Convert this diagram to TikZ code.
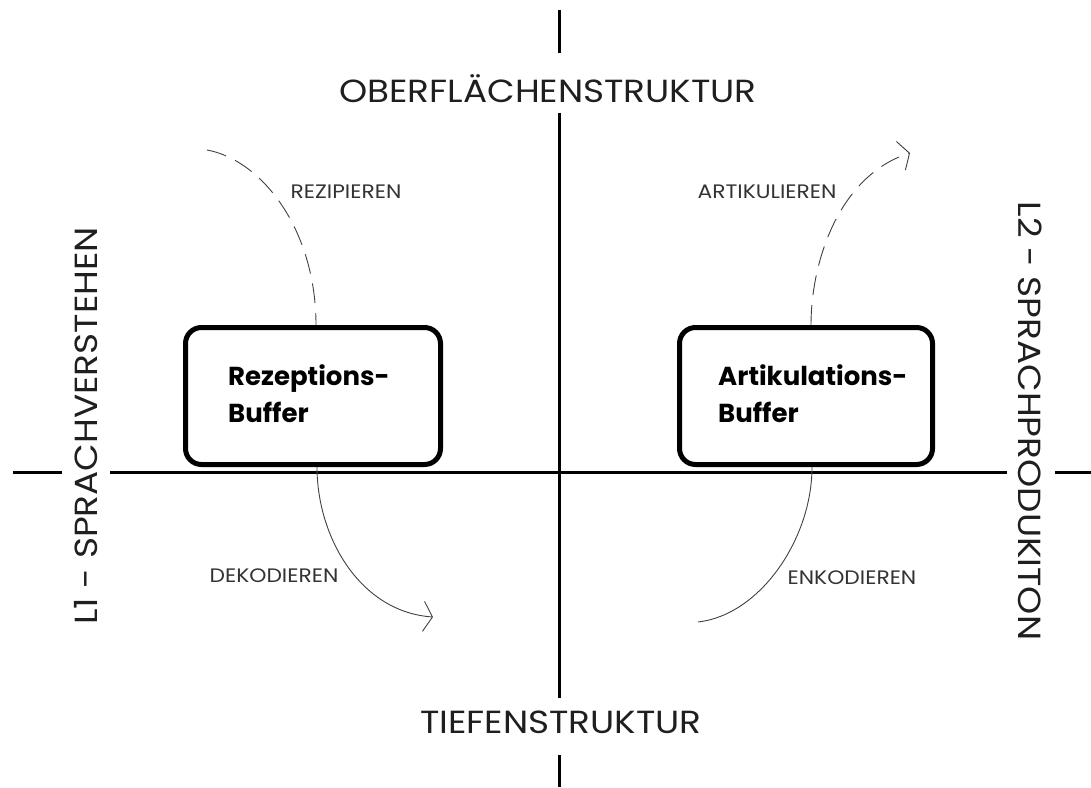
\documentclass[tikz,border=0pt]{standalone}
\usepackage{fontspec}
\setmainfont{Poppins}
\newfontfamily\widesans[FakeStretch=1.12]{Poppins}
\usetikzlibrary{arrows.meta,calc}

\tikzset{
  axis/.style={line width=3pt, black},
  buffer/.style={draw, line width=5pt, rounded corners=16pt, fill=white,
                 minimum height=137pt},
  bufftext/.style={anchor=base west, align=left, font=\fontsize{26}{37}\selectfont\bfseries, inner sep=0pt},
  biglabel/.style={font=\widesans\fontsize{32}{32}\selectfont, text=black!88, inner sep=0pt},
  steplabel/.style={font=\widesans\fontsize{19.5}{19.5}\selectfont, text=black!80, inner sep=0pt},
  dashedflow/.style={line width=0.9pt, black!75, dash pattern=on 20pt off 10pt},
  solidflow/.style={line width=0.9pt, black!75},
  openhead/.style={-{Straight Barb[length=9pt,width=30pt,line width=0.9pt]}}
}

\begin{document}
\begin{tikzpicture}[x=1pt,y=-1pt]
  \useasboundingbox (0,0) rectangle (1091,787);

  % ---- axis labels ----
  \node[biglabel] (ober) at (548,89) {OBERFLÄCHENSTRUKTUR};
  \node[biglabel] (tief) at (561,722) {TIEFENSTRUKTUR};
  \node[biglabel, rotate=90]  (lone) at (86,426) {L1 - SPRACHVERSTEHEN};
  \node[biglabel, rotate=-90] (ltwo) at (1030,421) {L2 - SPRACHPRODUKITON};

  % ---- axes ----
  \coordinate (vtop) at (559,10);
  \coordinate (vbot) at (559,787);
  \coordinate (hleft) at (13,472);
  \coordinate (hright) at (1091,472);
  \draw[axis] (vtop) -- (559,53);
  \draw[axis] (559,113) -- (559,698);
  \draw[axis] (559,755) -- (vbot);
  \draw[axis] (hleft) -- (62,472);
  \draw[axis] (110,472) -- (1007,472);
  \draw[axis] (1055,472) -- (hright);

  % ---- buffers ----
  \node[buffer, minimum width=255pt] (rez) at (313,396) {};
  \node[buffer, minimum width=253pt] (art) at (806,396) {};
  \node[bufftext] (reztext) at (228,422) {Rezeptions-\\Buffer};
  \node[bufftext] (arttext) at (718,422) {Artikulations-\\Buffer};

  % ---- flow curves (yshift is on the page: positive = up) ----
  \coordinate (rezin) at (207,150);
  \coordinate (artout) at (910,153);
  \coordinate (dekout) at (433,617);
  \coordinate (enkin) at (698,622);

  \draw[dashedflow] (rezin) .. controls (262,160) and ([xshift=3pt,yshift=95pt]rez.north) .. ([xshift=3pt]rez.north);
  \draw[dashedflow, openhead] ([xshift=5pt]art.north) .. controls ([xshift=5pt,yshift=65pt]art.north) and (840,175) .. (artout);
  \draw[solidflow, openhead] ([xshift=4pt]rez.south) .. controls ([xshift=4pt,yshift=-70pt]rez.south) and (360,612) .. (dekout);
  \draw[solidflow] ([xshift=6pt]art.south) .. controls ([xshift=6pt,yshift=-72pt]art.south) and (760,615) .. (enkin);

  % ---- step labels ----
  \node[steplabel] (rezlab) at (346,192) {REZIPIEREN};
  \node[steplabel] (artlab) at (767,192) {ARTIKULIEREN};
  \node[steplabel] (deklab) at (274,576) {DEKODIEREN};
  \node[steplabel] (enklab) at (852,578) {ENKODIEREN};
\end{tikzpicture}
\end{document}
